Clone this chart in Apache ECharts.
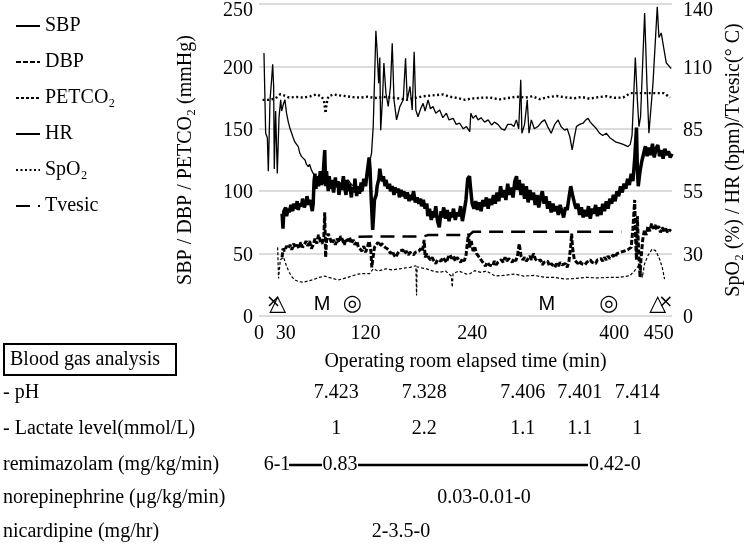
<!DOCTYPE html>
<html>
<head>
<meta charset="utf-8">
<script src="https://cdn.jsdelivr.net/npm/echarts@6.0.0/dist/echarts.min.js"></script>
<style>
  html, body { margin: 0; padding: 0; background: #fff; }
  #chart { width: 744px; height: 544px; }
</style>
</head>
<body>
<div id="chart"></div>
<script>
// time (min) / value pairs
const sbp = [[26,82],[27,70],[28,84],[30,87],[31,80],[33,86],[34,83],[36,89],[38,84],[39,90],[41,86],[43,92],[44,85],[46,90],[48,88],[49,94],[51,87],[53,91],[54,96],[56,89],[57,93],[59,88],[60,84],[61,90],[62,108],[63,114],[64,102],[66,112],[67,104],[69,116],[70,105],[72,110],[73,122],[74,133],[75,104],[76,116],[78,100],[79,112],[81,102],[82,109],[84,99],[86,111],[87,103],[89,108],[90,97],[92,107],[93,101],[95,112],[96,104],[98,97],[99,109],[101,100],[102,106],[104,95],[105,103],[107,99],[108,110],[110,96],[111,104],[113,98],[115,107],[116,100],[118,110],[120,104],[122,116],[124,127],[125,118],[126,100],[127,84],[128,69],[129,80],[130,93],[132,97],[133,104],[135,110],[136,118],[137,113],[139,108],[140,112],[142,104],[143,109],[145,102],[147,106],[148,100],[150,104],[152,97],[153,103],[155,99],[157,102],[158,95],[160,101],[162,96],[163,100],[165,94],[167,99],[169,92],[170,97],[172,93],[174,100],[176,91],[178,95],[180,90],[182,94],[183,88],[185,93],[187,86],[189,90],[190,80],[192,86],[194,77],[196,84],[197,79],[199,88],[201,76],[203,71],[205,84],[206,79],[208,87],[210,78],[212,85],[214,76],[216,83],[217,79],[219,86],[221,77],[223,83],[225,80],[227,88],[229,76],[231,84],[233,93],[235,110],[237,112],[238,104],[240,90],[242,86],[244,92],[246,85],[248,91],[250,84],[252,93],[254,88],[256,95],[258,86],[260,94],[262,89],[264,97],[266,90],[268,99],[270,92],[272,104],[274,95],[276,101],[278,93],[280,106],[282,97],[284,103],[286,95],[288,108],[290,112],[291,101],[293,109],[295,97],[297,106],[299,94],[301,104],[303,91],[305,101],[307,93],[309,99],[311,89],[313,97],[315,87],[317,95],[319,100],[321,90],[323,96],[325,86],[327,92],[329,83],[331,90],[333,84],[335,88],[337,81],[339,89],[341,84],[343,79],[345,87],[347,85],[349,95],[351,104],[353,97],[355,91],[357,86],[359,90],[361,81],[363,87],[365,79],[367,85],[369,80],[371,88],[373,78],[375,86],[377,82],[379,89],[381,80],[383,87],[385,81],[387,90],[389,84],[391,92],[393,86],[395,94],[397,90],[399,97],[401,92],[403,100],[405,96],[407,104],[409,99],[411,106],[413,102],[415,110],[417,105],[419,114],[421,108],[423,126],[425,151],[426,118],[427,104],[429,116],[431,124],[433,130],[435,136],[437,128],[439,135],[441,129],[443,138],[445,127],[447,134],[449,137],[451,128],[453,133],[455,126],[457,134],[459,129],[461,132],[463,127],[465,130]];

const dbp = [[26,47],[27,54],[29,52],[31,56],[33,54],[35,57],[37,53],[39,58],[41,55],[43,57],[45,54],[47,59],[49,55],[51,57],[53,60],[55,56],[57,60],[59,54],[61,57],[63,62],[65,58],[67,65],[69,60],[71,58],[73,64],[74,83],[75,47],[76,60],[78,66],[80,62],[82,58],[84,61],[86,57],[88,62],[90,59],[92,64],[94,61],[96,57],[98,62],[100,60],[102,63],[104,58],[106,61],[108,57],[110,60],[112,55],[114,54],[116,52],[118,56],[120,51],[122,55],[124,60],[126,52],[127,39],[128,45],[130,55],[132,57],[134,59],[136,56],[138,58],[140,57],[142,55],[144,56],[146,53],[148,50],[150,52],[152,49],[154,47],[156,50],[158,52],[160,51],[162,53],[164,50],[166,52],[168,49],[170,51],[172,50],[174,49],[176,51],[178,50],[180,52],[182,54],[184,52],[186,61],[187,47],[189,50],[191,47],[193,45],[195,47],[197,44],[199,42],[201,45],[203,46],[205,44],[207,47],[209,45],[211,43],[213,47],[215,49],[217,46],[219,48],[221,44],[223,47],[225,45],[227,43],[229,46],[231,44],[233,48],[235,61],[236,66],[237,55],[239,60],[241,52],[243,55],[245,50],[247,48],[249,46],[251,44],[253,42],[255,40],[257,43],[259,41],[261,42],[263,40],[265,44],[267,41],[269,43],[271,42],[273,45],[275,43],[277,47],[279,44],[281,46],[283,45],[285,43],[287,46],[289,44],[291,48],[293,58],[295,48],[297,45],[299,47],[301,44],[303,46],[305,48],[307,45],[309,50],[311,46],[313,44],[315,43],[317,45],[319,41],[321,43],[323,42],[325,44],[327,40],[329,42],[331,41],[333,39],[335,42],[337,40],[339,43],[341,41],[343,40],[345,42],[347,39],[349,44],[351,56],[352,66],[353,55],[355,45],[357,44],[359,42],[361,44],[363,42],[365,43],[367,41],[369,43],[371,42],[373,45],[375,43],[377,44],[379,42],[381,45],[383,44],[385,46],[387,44],[389,47],[391,45],[393,48],[395,46],[397,47],[399,49],[401,47],[403,50],[405,49],[407,51],[409,50],[411,52],[413,51],[415,53],[417,52],[419,55],[421,70],[423,93],[424,62],[425,45],[426,80],[427,60],[428,45],[429,31],[430,45],[432,61],[434,69],[436,65],[438,72],[440,68],[442,74],[444,70],[446,73],[448,69],[450,72],[452,67],[454,71],[456,68],[458,70],[460,67],[462,69],[464,68]];

const petco2 = [[21,55],[21.5,42],[22,30],[24,45],[27.7,47],[31.2,39.5],[34,35],[36.8,31.6],[40,29],[44.3,27.6],[50,27],[55,28],[59,28.8],[64,30],[68,31],[74,32],[78,31],[84,30],[89,28.8],[95,30],[100,31],[104,32],[111.6,33.6],[118,34],[124.6,34],[128.6,37.8],[134,36],[143,37.8],[150,37],[158.6,37.8],[165,38.5],[170,39],[176.6,40.3],[177.4,16.4],[178,39.5],[183,38.5],[188.6,37.8],[196,36],[203.4,35],[210,36],[216.5,32],[217.6,23],[218.5,34],[225,36],[233.6,33.6],[238,34],[242.9,36.3],[250,35],[256,36],[265.8,32],[275,32.5],[288,33.6],[298,32],[310,32.5],[321.6,31],[333,31],[344,29.6],[355,30],[368.6,31],[380,30.5],[395,31],[405,31],[417.5,32.2],[423,36.3],[428.6,41.6],[431.6,31],[434,41.6],[437.8,48.3],[442.7,53.7],[446.4,52.4],[450.3,47],[454,39],[456.6,29.6]];

const hr = [[5.6,118],[7.5,82],[9.4,80],[10.5,65],[12.4,97],[14.2,106],[15.4,113],[16.5,103],[17.2,66],[18.7,92],[20.6,64],[22.5,89],[24.4,97],[25.5,92],[27.4,95],[29.2,97],[31,91],[33,87],[35,84],[36.8,82],[38.5,80],[40.5,78],[42,78],[44.2,76],[46,73],[48,71.5],[50,72],[51.8,70],[53.5,68],[55.5,67],[57,68],[59,65.5],[61,64],[63,63],[65,62],[67,62.5],[70.5,60],[74,59],[78,58.8],[82,57],[85.5,58],[89,58.5],[93,59.6],[97,60],[100.5,61],[104,59],[108,58],[112,57],[115.5,55.7],[119,60],[121,64],[124,68],[126.7,73],[128.6,85],[130.5,112],[131.6,128],[133,119],[134.7,104.5],[136,116],[137,83.4],[139,97],[140.6,113.5],[142.9,100],[145.5,94],[148,103],[150,122.4],[152,97],[154.9,88],[158.6,94],[162.4,97],[165,115.6],[166.9,97],[170,103],[172.5,92.4],[174.7,118.6],[176.6,92.4],[179,89.4],[182,93],[184.8,95.4],[187,92],[190.4,97],[193,93],[195.9,94],[199,91],[203.4,92.4],[207,89],[211,91],[214,88],[218.6,88.7],[222,86],[226,86.5],[230,84],[233.6,85],[237.3,82.7],[238.5,91],[241,88.7],[244,90],[246.7,88],[250,89],[254,87],[258,88],[262,85.7],[265,87],[269,86],[273,84],[276.6,83.4],[280,86],[284,86],[287,85],[289.8,88],[292.4,84],[294.7,106],[296,82],[299,86],[302,97],[304,82],[306.6,88],[310,84],[314,85],[318,87],[321.6,88],[325,85],[329,82],[333,86],[336.8,88],[340,85],[344,83.4],[347,84],[350,80.4],[352.6,74.5],[355,80],[357.4,85],[361,86],[364.9,86.5],[368,88],[370.5,88.7],[373,87],[376,85.7],[380,84],[383.6,82],[387,81],[391,82],[395,80],[398.6,79],[402,78],[406,77.6],[410,77],[415.4,76],[418,77],[420,81],[423.7,116],[426,97],[427.8,85],[429.6,89.4],[434.2,136],[436.8,104],[439,82],[443.6,104.5],[448.4,138.7],[450.3,125],[452.9,127],[455.5,120.7],[458.6,113.5],[462,112],[464,111]];

const spo2 = [[4,97],[10,97],[18,97.5],[24,99.5],[28,99],[34,98],[42,98.3],[50,98],[58,98.6],[65,99.5],[70,98.5],[73,97],[74,94],[75,91],[76,95],[78,98.5],[84,99.4],[90,99],[97,98.7],[105,98.2],[114,98],[122,98.4],[130,97.8],[140,98.3],[150,98],[158,97.6],[166,97],[175,97.8],[185,98.6],[195,99],[207,99.4],[215,98.4],[224,97.8],[232,97],[240,97.6],[253,98],[260,98],[271,97.2],[280,97.8],[290,98.4],[300,98],[308,98.6],[316,97.3],[325,98.2],[335,98.7],[345,98.1],[355,97.7],[363,98.3],[372,97.5],[382,98.2],[391,98.6],[400,97.9],[410,98],[418,100],[428,100],[438,100],[448,100],[456,100],[463,98]];

const tvesic = [[112,35.6],[185,35.7],[190,36.3],[237,36.4],[241,37.8],[408,37.8]];

const xTicks = [0, 30, 120, 240, 400, 450];
const rightTickLabels = ['0', '30', '55', '85', '110', '140'];

// blood gas results
const bloodGasTimes = [87, 186, 297, 361, 426];
const phValues = ['7.423', '7.328', '7.406', '7.401', '7.414'];
const lactateValues = ['1', '2.2', '1.1', '1.1', '1'];

// event marks on the time line
const eventTimes = [21, 71, 105, 324, 394, 449];
const eventLabels = ['△', 'M', '◎', 'M', '◎', '△'];

const serif = "'Liberation Serif', 'DejaVu Serif', serif";
const chart = echarts.init(document.getElementById('chart'));

function lineSeries(name, data, yAxisIndex, width, type, z) {
  return {
    name: name,
    type: 'line',
    yAxisIndex: yAxisIndex,
    data: data,
    symbol: 'none',
    z: z,
    lineStyle: { color: '#000', width: width, type: type },
    itemStyle: { color: '#000' },
    animation: false
  };
}

// top tick label sits a bit lower so it stays on the canvas
const tickRich = {
  t: { fontFamily: serif, fontSize: 20, color: '#000', padding: [14, 0, 0, 0] },
  n: { fontFamily: serif, fontSize: 20, color: '#000', padding: [4, 0, 0, 0] }
};

chart.setOption({
  animation: false,
  grid: { left: 259, right: 72, top: 4, bottom: 228, outerBoundsMode: 'none', containLabel: false },
  legend: {
    orient: 'vertical',
    left: 10,
    top: 11,
    itemGap: 16,
    itemWidth: 24,
    itemHeight: 14,
    itemStyle: { opacity: 0 },
    textStyle: { fontFamily: serif, fontSize: 20, color: '#000' },
    data: ['SBP', 'DBP', 'PETCO₂', 'HR', 'SpO₂', 'Tvesic']
  },
  xAxis: {
    type: 'value',
    min: 0,
    max: 465,
    splitLine: { show: false },
    axisLine: { show: false },
    axisTick: { show: false },
    axisLabel: {
      customValues: xTicks,
      fontFamily: serif, fontSize: 20, color: '#000', margin: 8
    },
    name: 'Operating room elapsed time (min)',
    nameLocation: 'middle',
    nameGap: 36,
    nameTextStyle: { fontFamily: serif, fontSize: 20, color: '#000' }
  },
  yAxis: [{
    type: 'value',
    min: 0, max: 250, interval: 50,
    axisLine: { show: false },
    axisTick: { show: false },
    splitLine: { lineStyle: { color: '#d0d0d0', width: 1.5 } },
    axisLabel: {
      margin: 6, rich: tickRich,
      formatter: function (v) { return v === 250 ? '{t|' + v + '}' : '{n|' + v + '}'; }
    },
    name: 'SBP / DBP / PETCO₂ (mmHg)',
    nameLocation: 'middle',
    nameRotate: 90,
    nameGap: 63,
    nameTextStyle: { fontFamily: serif, fontSize: 20, color: '#000' }
  }, {
    type: 'value',
    min: 0, max: 140, interval: 28,
    position: 'right',
    axisLine: { show: false },
    axisTick: { show: false },
    splitLine: { show: false },
    axisLabel: {
      margin: 11, rich: tickRich,
      formatter: function (v) {
        const s = rightTickLabels[Math.round(v / 28)];
        return v === 140 ? '{t|' + s + '}' : '{n|' + s + '}';
      }
    },
    name: 'SpO₂ (%) / HR (bpm)/Tvesic(° C)',
    nameLocation: 'middle',
    nameRotate: 90,
    nameGap: 50,
    nameTextStyle: { fontFamily: serif, fontSize: 20, color: '#000' }
  }],
  series: [
    lineSeries('SBP', sbp, 0, 3.5, 'solid', 5),
    lineSeries('DBP', dbp, 0, 3, [5, 2], 5),
    lineSeries('PETCO₂', petco2, 0, 1.2, [3, 2], 4),
    lineSeries('HR', hr, 1, 1.3, 'solid', 4),
    lineSeries('SpO₂', spo2, 1, 2.4, [2, 2.5], 4),
    lineSeries('Tvesic', tvesic, 1, 2.5, [14, 8], 4)
  ]
});

// text annotations placed on the time axis
const px = (t) => chart.convertToPixel({ xAxisIndex: 0 }, t);
const txt = (x, y, s, opt) => Object.assign({
  type: 'text', x: x, y: y,
  style: Object.assign({
    text: s, font: '20px ' + serif, fill: '#000',
    align: 'center', verticalAlign: 'middle'
  }, opt || {})
});

const graphics = [];
eventTimes.forEach((t, i) => {
  const s = eventLabels[i];
  let font = '22px DejaVu Sans';
  if (s === 'M') font = '20px Liberation Sans';
  graphics.push(txt(px(t), 304, s, { font: font }));
});
graphics.push(txt(px(eventTimes[0]) - 4, 302, '×', { font: '18px DejaVu Sans' }));
graphics.push(txt(px(eventTimes[5]) + 8, 302, '×', { font: '18px DejaVu Sans' }));

bloodGasTimes.forEach((t, i) => {
  graphics.push(txt(px(t), 393, phValues[i]));
  graphics.push(txt(px(t), 429, lactateValues[i]));
});

// row headers
graphics.push({
  type: 'rect', shape: { x: 4, y: 344, width: 172, height: 31 },
  style: { fill: 'none', stroke: '#000', lineWidth: 2 }
});
graphics.push(txt(10, 360, 'Blood gas analysis', { align: 'left' }));
graphics.push(txt(3, 393, '- pH', { align: 'left' }));
graphics.push(txt(3, 429, '- Lactate level(mmol/L)', { align: 'left' }));
graphics.push(txt(3, 465, 'remimazolam (mg/kg/min)', { align: 'left' }));
graphics.push(txt(3, 498, 'norepinephrine (μg/kg/min)', { align: 'left' }));
graphics.push(txt(3, 532, 'nicardipine (mg/hr)', { align: 'left' }));

// drug dosing rows
graphics.push(txt(277, 465, '6-1'));
graphics.push({ type: 'line', shape: { x1: 289, y1: 465, x2: 322, y2: 465 }, style: { stroke: '#000', lineWidth: 2.5 } });
graphics.push(txt(340, 465, '0.83'));
graphics.push({ type: 'line', shape: { x1: 358, y1: 465, x2: 588, y2: 465 }, style: { stroke: '#000', lineWidth: 2.5 } });
graphics.push(txt(589, 465, '0.42-0', { align: 'left' }));
graphics.push(txt(484, 498, '0.03-0.01-0'));
graphics.push(txt(401, 532, '2-3.5-0'));

chart.setOption({ graphic: graphics });
</script>
</body>
</html>
